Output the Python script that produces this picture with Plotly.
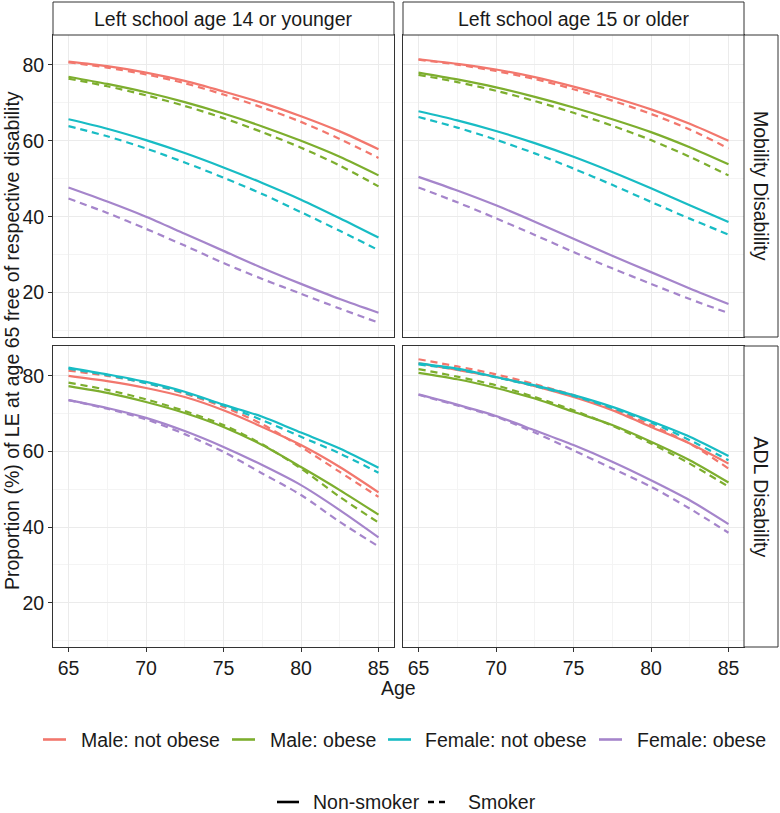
import plotly.graph_objects as go

# ---------------- data ----------------
AGES = [65, 67.5, 70, 72.5, 75, 77.5, 80, 82.5, 85]
GROUPS = ["Male: not obese", "Male: obese", "Female: not obese", "Female: obese"]
SMOKING = ["Non-smoker", "Smoker"]
EDU = ["Left school age 14 or younger", "Left school age 15 or older"]
DISAB = ["Mobility Disability", "ADL Disability"]

# Mobility disability, left school age 14 or younger
MOB14_M_NOB_NS = [80.9, 79.7, 78.0, 75.8, 73.0, 70.0, 66.5, 62.5, 57.8]
MOB14_M_NOB_S = [80.7, 79.3, 77.5, 75.2, 72.2, 68.8, 65.0, 60.5, 55.5]
MOB14_M_OB_NS = [76.9, 75.0, 72.8, 70.2, 67.2, 63.8, 60.0, 55.8, 50.9]
MOB14_M_OB_S = [76.4, 74.4, 72.0, 69.2, 66.0, 62.3, 58.2, 53.5, 48.0]
MOB14_F_NOB_NS = [65.7, 63.2, 60.2, 56.8, 53.0, 48.9, 44.5, 39.6, 34.5]
MOB14_F_NOB_S = [63.9, 61.2, 58.0, 54.3, 50.3, 46.0, 41.2, 36.3, 31.2]
MOB14_F_OB_NS = [47.7, 44.0, 40.0, 35.5, 31.0, 26.5, 22.3, 18.3, 14.7]
MOB14_F_OB_S = [44.8, 41.0, 36.8, 32.4, 27.8, 23.6, 19.7, 15.8, 12.1]

# Mobility disability, left school age 15 or older
MOB15_M_NOB_NS = [81.5, 80.3, 78.8, 76.8, 74.3, 71.5, 68.3, 64.5, 60.0]
MOB15_M_NOB_S = [81.4, 80.1, 78.4, 76.3, 73.6, 70.6, 67.1, 63.0, 58.0]
MOB15_M_OB_NS = [78.0, 76.2, 74.1, 71.6, 68.8, 65.7, 62.3, 58.3, 53.8]
MOB15_M_OB_S = [77.4, 75.5, 73.2, 70.5, 67.4, 64.0, 60.2, 55.8, 50.9]
MOB15_F_NOB_NS = [67.8, 65.4, 62.6, 59.4, 55.8, 51.8, 47.5, 43.0, 38.6]
MOB15_F_NOB_S = [66.3, 63.5, 60.3, 56.7, 52.7, 48.4, 43.9, 39.5, 35.3]
MOB15_F_OB_NS = [50.5, 46.9, 43.0, 38.7, 34.2, 29.7, 25.4, 21.1, 17.0]
MOB15_F_OB_S = [47.7, 43.8, 39.6, 35.2, 30.7, 26.4, 22.3, 18.3, 14.6]

# ADL disability, left school age 14 or younger
ADL14_M_NOB_NS = [80.0, 78.6, 76.8, 74.4, 70.9, 66.5, 61.7, 55.9, 49.2]
ADL14_M_NOB_S = [81.4, 80.0, 78.1, 75.3, 71.8, 67.2, 61.2, 54.6, 48.0]
ADL14_M_OB_NS = [77.3, 75.5, 73.1, 70.2, 66.5, 61.7, 55.9, 49.8, 43.3]
ADL14_M_OB_S = [78.2, 76.3, 73.8, 70.7, 67.0, 61.9, 55.5, 48.0, 41.2]
ADL14_F_NOB_NS = [82.2, 80.4, 78.4, 75.8, 72.4, 69.2, 65.0, 60.8, 55.7]
ADL14_F_NOB_S = [81.9, 80.2, 78.1, 75.5, 72.2, 68.3, 63.9, 59.5, 54.4]
ADL14_F_OB_NS = [73.6, 71.5, 68.9, 65.4, 61.2, 56.4, 51.1, 44.5, 37.3]
ADL14_F_OB_S = [73.6, 71.3, 68.5, 64.6, 59.9, 54.2, 48.5, 41.4, 34.9]

# ADL disability, left school age 15 or older
ADL15_M_NOB_NS = [83.3, 81.6, 79.7, 77.3, 74.4, 70.9, 66.5, 62.1, 56.8]
ADL15_M_NOB_S = [84.4, 82.5, 80.4, 77.8, 74.9, 71.2, 67.0, 62.1, 55.5]
ADL15_M_OB_NS = [80.8, 79.1, 76.8, 74.0, 70.5, 67.0, 62.6, 57.7, 51.8]
ADL15_M_OB_S = [81.8, 79.8, 77.5, 74.4, 70.9, 66.8, 62.1, 56.8, 50.7]
ADL15_F_NOB_NS = [83.3, 81.9, 79.7, 77.5, 74.9, 71.8, 68.0, 63.9, 58.8]
ADL15_F_NOB_S = [83.0, 81.7, 79.6, 77.3, 74.7, 71.5, 67.7, 63.0, 57.7]
ADL15_F_OB_NS = [75.1, 72.4, 69.4, 65.6, 61.7, 57.3, 52.4, 47.1, 40.8]
ADL15_F_OB_S = [75.0, 72.2, 69.2, 65.0, 60.3, 55.5, 50.7, 44.9, 38.5]

X_TICKS = [65, 70, 75, 80, 85]
Y_TICKS = [20, 40, 60, 80]

# ---------------- build ----------------
PANELS = [
    ("x", "y", [[MOB14_M_NOB_NS, MOB14_M_NOB_S], [MOB14_M_OB_NS, MOB14_M_OB_S],
                [MOB14_F_NOB_NS, MOB14_F_NOB_S], [MOB14_F_OB_NS, MOB14_F_OB_S]]),
    ("x2", "y2", [[MOB15_M_NOB_NS, MOB15_M_NOB_S], [MOB15_M_OB_NS, MOB15_M_OB_S],
                  [MOB15_F_NOB_NS, MOB15_F_NOB_S], [MOB15_F_OB_NS, MOB15_F_OB_S]]),
    ("x3", "y3", [[ADL14_M_NOB_NS, ADL14_M_NOB_S], [ADL14_M_OB_NS, ADL14_M_OB_S],
                  [ADL14_F_NOB_NS, ADL14_F_NOB_S], [ADL14_F_OB_NS, ADL14_F_OB_S]]),
    ("x4", "y4", [[ADL15_M_NOB_NS, ADL15_M_NOB_S], [ADL15_M_OB_NS, ADL15_M_OB_S],
                  [ADL15_F_NOB_NS, ADL15_F_NOB_S], [ADL15_F_OB_NS, ADL15_F_OB_S]]),
]

COLORS = ["#F2776D", "#7DAE2E", "#18BCC4", "#A585CB"]
DASHES = ["solid", "7px,5px"]
FONT = "Liberation Sans, Arial, sans-serif"
TXT = "#1A1A1A"
LW = 2.2

fig = go.Figure()
for xa, ya, series in PANELS:
    for gi, pair in enumerate(series):
        for si, vals in enumerate(pair):
            fig.add_trace(go.Scatter(
                x=AGES, y=vals, xaxis=xa, yaxis=ya, mode="lines",
                name=GROUPS[gi] + " / " + SMOKING[si],
                line=dict(color=COLORS[gi], width=LW, dash=DASHES[si], shape="spline", smoothing=0.8),
                showlegend=False, hoverinfo="skip"))

# geometry (pixels)
W, H = 780, 813
L, R, T, B = 53, 744, 35, 647
PW, PH = R - L, B - T
def px(xp): return (xp - L) / PW
def py(yp): return (B - yp) / PH

XD = [[px(53), px(394)], [px(403), px(744)]]
YD = [[py(337), py(35)], [py(647), py(346)]]

GRID = "#EBEBEB"
MINOR = "#F4F4F4"
LINE = "#333333"

def xaxis(col, row):
    bottom = row == 1
    return dict(domain=XD[col], range=[64, 86], tickvals=X_TICKS,
                showgrid=True, gridcolor=GRID, gridwidth=1,
                minor=dict(tickvals=[67.5, 72.5, 77.5, 82.5], showgrid=True, gridcolor=MINOR, gridwidth=0.8, ticks=""),
                showline=True, mirror=True, linecolor=LINE, linewidth=1,
                ticks="outside" if bottom else "", ticklen=4, tickcolor=LINE,
                showticklabels=bottom, zeroline=False,
                tickfont=dict(family=FONT, size=19.5, color=TXT))

def yaxis(col, row):
    left = col == 0
    return dict(domain=YD[row], range=[8.3, 87.9], tickvals=Y_TICKS,
                showgrid=True, gridcolor=GRID, gridwidth=1,
                minor=dict(tickvals=[10, 30, 50, 70], showgrid=True, gridcolor=MINOR, gridwidth=0.8, ticks=""),
                showline=True, mirror=True, linecolor=LINE, linewidth=1,
                ticks="outside" if left else "", ticklen=4, tickcolor=LINE,
                showticklabels=left, zeroline=False,
                tickfont=dict(family=FONT, size=19.5, color=TXT))

layout = dict(
    width=W, height=H, margin=dict(l=L, r=W - R, t=T, b=H - B, autoexpand=False),
    plot_bgcolor="white", paper_bgcolor="white", showlegend=False,
    font=dict(family=FONT, size=19.5, color=TXT),
)
names = [("xaxis", "yaxis", 0, 0), ("xaxis2", "yaxis2", 1, 0), ("xaxis3", "yaxis3", 0, 1), ("xaxis4", "yaxis4", 1, 1)]
for i, (xn, yn, c, r) in enumerate(names):
    layout[xn] = xaxis(c, r)
    layout[yn] = yaxis(c, r)
    if i > 0:
        layout[xn]["anchor"] = "y" + str(i + 1)
        layout[yn]["anchor"] = "x" + str(i + 1)
fig.update_layout(**layout)

shapes = []
annotations = []
def label(xp, yp, text, anchor="left", angle=0):
    annotations.append(dict(xref="paper", yref="paper", x=px(xp), y=py(yp), text=text,
                            showarrow=False, xanchor=anchor, yanchor="middle", textangle=angle,
                            font=dict(family=FONT, size=19.5, color=TXT)))

# top strips
for c in range(2):
    shapes.append(dict(type="rect", xref="paper", yref="paper",
                       x0=XD[c][0], x1=XD[c][1], y0=py(35), y1=py(2),
                       line=dict(color=LINE, width=1), fillcolor="white", layer="above"))
    annotations.append(dict(xref="paper", yref="paper", x=(XD[c][0] + XD[c][1]) / 2, y=py(18.5),
                            text=EDU[c], showarrow=False, xanchor="center", yanchor="middle",
                            font=dict(family=FONT, size=19.5, color=TXT)))
# right strips
for r in range(2):
    shapes.append(dict(type="rect", xref="paper", yref="paper",
                       x0=px(744), x1=px(778), y0=YD[r][0], y1=YD[r][1],
                       line=dict(color=LINE, width=1), fillcolor="white", layer="above"))
    annotations.append(dict(xref="paper", yref="paper", x=px(761), y=(YD[r][0] + YD[r][1]) / 2,
                            text=DISAB[r], showarrow=False, textangle=90,
                            xanchor="center", yanchor="middle",
                            font=dict(family=FONT, size=19.5, color=TXT)))
# axis titles
label(398.5, 688, "Age", anchor="center")
label(12, 341, "Proportion (%) of LE at age 65 free of respective disability", anchor="center", angle=-90)

# legend 1 (colour)
KEY1 = [(43, 79), (232, 268), (388, 423), (599, 635)]
for gi, (kx, tx) in enumerate(KEY1):
    shapes.append(dict(type="line", xref="paper", yref="paper", x0=px(kx), x1=px(kx + 23),
                       y0=py(739.5), y1=py(739.5), line=dict(color=COLORS[gi], width=2.6)))
    label(tx, 739.5, GROUPS[gi])

# legend 2 (linetype)
KEY2 = [(277, 311), (428, 466)]
for si, (kx, tx) in enumerate(KEY2):
    shapes.append(dict(type="line", xref="paper", yref="paper", x0=px(kx), x1=px(kx + 22),
                       y0=py(802), y1=py(802),
                       line=dict(color="black", width=2.6, dash=["solid", "6px,5px"][si])))
    label(tx, 802, SMOKING[si])

fig.update_layout(shapes=shapes, annotations=annotations)

fig.write_html("out.html", config={"displayModeBar": False},
               post_script="document.body.style.margin='0px';document.body.style.overflow='hidden';")
